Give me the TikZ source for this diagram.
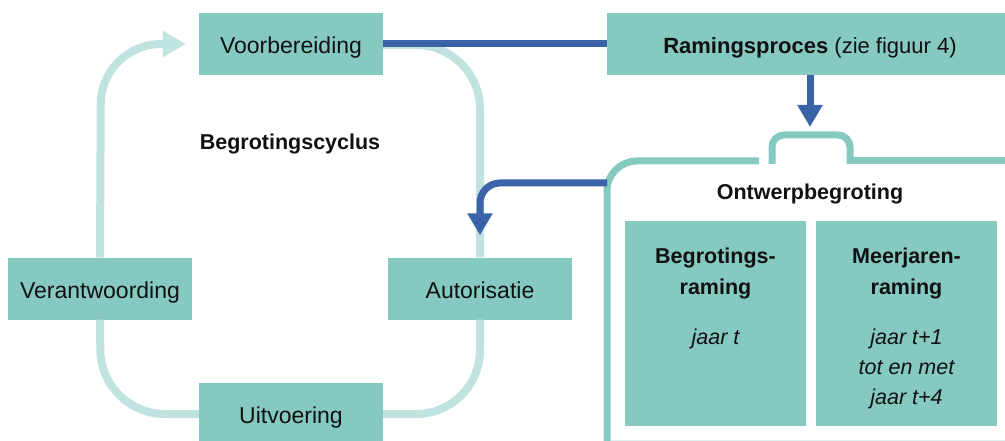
\documentclass[tikz,border=0pt]{standalone}
\usepackage{fontspec}
\setmainfont{Liberation Sans}
\usetikzlibrary{arrows.meta}
\definecolor{boxteal}{HTML}{85C9C0}
\definecolor{lightteal}{HTML}{C0E3DF}
\definecolor{bluec}{HTML}{3A63A8}
\definecolor{textblack}{HTML}{111111}
\definecolor{faintteal}{HTML}{DDF1EE}
\begin{document}
\begin{tikzpicture}[x=1pt,y=-1pt,
  box/.style={fill=boxteal, draw=none, minimum width=184pt, minimum height=62pt, inner sep=0pt,
    text height=19.5pt, text depth=0pt,
    font=\fontsize{23}{27}\selectfont, text=textblack},
  boldtext/.style={font=\fontsize{21.5}{31}\selectfont\bfseries, text=textblack, inner sep=0pt, anchor=base},
  italtext/.style={font=\fontsize{21.5}{30}\selectfont\itshape, text=textblack, inner sep=0pt, anchor=base},
  cycleline/.style={draw=lightteal, line width=8pt},
  cyclearrow/.style={cycleline, -{Triangle[width=25pt,length=23pt]}},
  blueline/.style={draw=bluec, line width=7pt},
  bluearrow/.style={blueline, -{Triangle[width=24pt,length=22pt]}},
  frameline/.style={draw=boxteal, line width=7pt}]
\useasboundingbox (0,0) rectangle (1005,441);

% boxes of the cycle
\node[box] (voor) at (291,44) {Voorbereiding};
\node[box] (verant) at (100,288.5) {Verantwoording};
\node[box] (autor) at (480,288.5) {Autorisatie};
\node[box] (uitv) at (291,414) {Uitvoering};
\node[box, minimum width=406pt, font=\fontsize{22}{26}\selectfont] (ramings) at (810,44) {\textbf{Ramingsproces} (zie figuur 4)};

\node[boldtext] (cyclus) at (290,150) {Begrotingscyclus};

% cycle loop
\draw[cycleline, rounded corners=64pt] (voor.east |- 0,45) -- (480,45) -- (autor.north);
\draw[cycleline, rounded corners=64pt] (autor.south) -- (480,414) -- (uitv.east);
\draw[cycleline, rounded corners=64pt] (uitv.west) -- (101,414) -- (verant.south);
\draw[cyclearrow, rounded corners=60pt, shorten >=13pt] (verant.north) -- (101,44) -- (voor.west);

% Ontwerpbegroting frame
\coordinate (frameleft) at (607,183);
\draw[frameline, rounded corners=30pt] (759,161) -- (607,161) -- (607,500);
\draw[frameline, rounded corners=12pt] (772,164) -- (772,135) -- (850,135) -- (850,164);
\draw[frameline] (846.5,161) -- (1010,161);
\draw[faintteal, line width=1.2pt] (611,440.4) -- (1005,440.4);

\node[boldtext] (ontwerp) at (810,200) {Ontwerpbegroting};

\node[box, minimum width=181pt, minimum height=205pt, text height=, text depth=] (braming) at (715.5,323.5) {};
\node[box, minimum width=181pt, minimum height=205pt, text height=, text depth=] (mraming) at (906.5,323.5) {};
\node[boldtext] (brtitle1) at (715.5,263) {Begrotings-};
\node[boldtext] (brtitle2) at (715.5,294) {raming};
\node[italtext] (brjaar) at (715.5,344) {jaar t};
\node[boldtext] (mrtitle1) at (906.5,263) {Meerjaren-};
\node[boldtext] (mrtitle2) at (906.5,294) {raming};
\node[italtext] (mrjaar1) at (906.5,344) {jaar t+1};
\node[italtext] (mrjaar2) at (906.5,374) {tot en met};
\node[italtext] (mrjaar3) at (906.5,404) {jaar t+4};

% blue connectors
\coordinate (tabtip) at (ramings.south |- 0,127);
\draw[blueline] (voor.east) -- (ramings.west);
\draw[bluearrow] (ramings.south) -- (tabtip);
\draw[bluearrow, rounded corners=20pt, shorten >=22pt] (frameleft) -| (autor.north);
\end{tikzpicture}
\end{document}
